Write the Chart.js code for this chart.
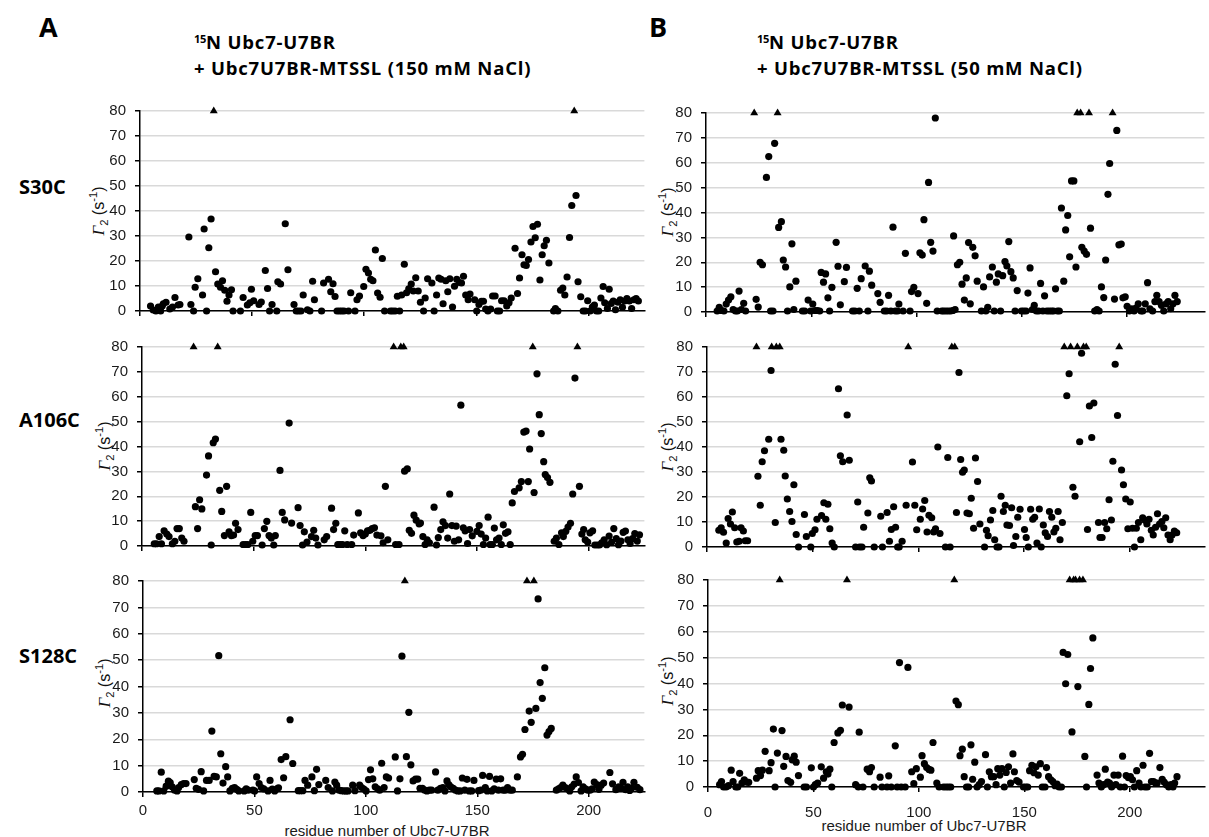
<!DOCTYPE html>
<html>
<head>
<meta charset="utf-8">
<script src="https://cdn.jsdelivr.net/npm/chart.js@4.4.1/dist/chart.umd.min.js"></script>
<style>
  body { margin: 0; width: 1209px; height: 837px; overflow: hidden; background: #fff; position: relative; }
  .head { position: absolute; font-family: 'Open Sans', sans-serif; font-weight: 700; color: #000; white-space: nowrap; line-height: 1; }
  .title { font-size: 18.5px; letter-spacing: 0.8px; }
  .head sup { font-size: 60%; vertical-align: 0.55em; line-height: 0; letter-spacing: -0.3px; }
  .ytitle { position: absolute; font-family: 'Liberation Sans', Arial, sans-serif; font-size: 16px; color: #111; white-space: nowrap; line-height: 1;
            transform: translate(-50%, -50%) rotate(-90deg); }
  .ytitle i { font-family: 'Liberation Serif', serif; font-size: 17px; color: #111; }
  .ytitle sub, .ytitle sup { font-size: 70%; line-height: 0; }
  .xtitle { position: absolute; font-family: 'Liberation Sans', Arial, sans-serif; font-size: 15px; color: #1a1a1a; white-space: nowrap; line-height: 1; transform: translate(-50%, -50%); }
</style>
</head>
<body>
<div class="head" style="left:39px;top:13px;font-size:27px">A</div>
<div class="head" style="left:649px;top:13px;font-size:27px">B</div>
<div class="head title" style="left:194px;top:33px"><sup>15</sup>N Ubc7-U7BR</div>
<div class="head title" style="left:194px;top:59px">+ Ubc7U7BR-MTSSL (150 mM NaCl)</div>
<div class="head title" style="left:757px;top:33px"><sup>15</sup>N Ubc7-U7BR</div>
<div class="head title" style="left:757px;top:59px">+ Ubc7U7BR-MTSSL (50 mM NaCl)</div>
<div class="head" style="left:19px;top:177px;font-size:20px">S30C</div>
<div class="head" style="left:19px;top:410px;font-size:20px">A106C</div>
<div class="head" style="left:19px;top:646px;font-size:20px">S128C</div>

<div class="ytitle" style="left:98px;top:211px"><i>Γ</i><sub>2</sub> (s<sup>-1</sup>)</div>
<div class="ytitle" style="left:104px;top:446px"><i>Γ</i><sub>2</sub> (s<sup>-1</sup>)</div>
<div class="ytitle" style="left:104px;top:683px"><i>Γ</i><sub>2</sub> (s<sup>-1</sup>)</div>
<div class="ytitle" style="left:667px;top:212px"><i>Γ</i><sub>2</sub> (s<sup>-1</sup>)</div>
<div class="ytitle" style="left:667px;top:447px"><i>Γ</i><sub>2</sub> (s<sup>-1</sup>)</div>
<div class="ytitle" style="left:667px;top:681px"><i>Γ</i><sub>2</sub> (s<sup>-1</sup>)</div>
<div class="xtitle" style="left:387px;top:830px">residue number of Ubc7-U7BR</div>
<div class="xtitle" style="left:924px;top:825px">residue number of Ubc7-U7BR</div>

<script>
// Γ2 values (s-1) per residue; [residue, Γ2]
const CAP = 80; // residues drawn as triangles (Γ2 beyond the axis)

const s30c150 = [[4.7,2],[5.9,0.4],[7.1,0],[8.2,1.6],[9.2,0],[9.9,2],[10.4,2.9],[11.6,3.5],[13.3,0.8],[14.5,1.6],[15.6,5.4],[17,2.4],[17.8,2.6],[21.8,29.6],[22.7,2.6],[23.9,0],[24.6,9.5],[25.8,12.9],[27.9,6.4],[28.6,32.8],[29.7,0],[30.7,25.3],[31.7,36.8],[33.7,15.7],[34.7,10.8],[35.9,9.5],[36.8,12.1],[37.8,8.3],[38.8,3.9],[39.7,6.4],[40.8,8.5],[41.5,0],[44.8,0],[46,5.4],[47.9,2.4],[49,3.3],[49.7,8.7],[50.7,4.1],[53.1,2.6],[54.1,3.6],[55.9,16.2],[56.9,9],[57.8,0],[58.9,2.6],[61,0],[61.5,11.7],[62.7,10.8],[64.8,34.9],[66,16.5],[68.7,2.6],[69.7,0],[70.7,0],[71.8,0],[72.8,6.4],[74.7,0.5],[75.8,0],[77,11.9],[77.8,4.5],[81,0],[81.9,11.2],[84.1,12.7],[85.1,7.7],[86.1,10.9],[87,5.8],[87.9,0],[89,0],[90,0],[91,0],[93,0],[94,7.3],[95.9,0],[96.8,4.5],[97.9,6],[99.8,9.8],[100.8,16.7],[101.9,15.2],[102.9,12.7],[103.9,12.1],[105,24.4],[106,7.2],[107.1,5.5],[108.1,21],[109.1,0],[111.7,0],[112.7,0],[113.8,0],[114.8,5.9],[115.8,0],[116.7,6.4],[117.9,18.7],[118.9,7.3],[119.9,8.9],[121,10.8],[121.9,8],[123,13.3],[124.1,8],[125.1,3.5],[126.5,0],[127.2,5.2],[128.3,12.9],[130.2,11.2],[131.2,0],[132.3,6.4],[133.3,13.2],[134.3,12.7],[135.2,2.9],[136.4,12.1],[137.3,7.7],[138.2,12.9],[139.4,1.6],[140.3,9.9],[141.3,12.7],[142.4,11.4],[143.4,11.2],[144.3,13.9],[145.3,6.4],[146.4,4.5],[147.2,6.8],[149.3,4.5],[150.2,0],[151.2,2.6],[152.3,3.9],[153.2,3.9],[154.2,0.8],[155.2,0],[156.4,0.8],[157.3,6],[158.4,6],[159.4,0],[160.4,0],[161.3,4.1],[162.4,4.1],[163.6,2],[164.6,3.3],[165.6,5.2],[167.3,25.1],[168.4,7],[169.3,13.2],[170.4,22.5],[171.3,18.5],[172.3,18.2],[173.3,20.6],[174.4,27.6],[175.3,33.8],[176.3,29.3],[177.3,34.7],[178.4,12.4],[179.4,22.5],[180.3,26.1],[181.3,28.3],[182.4,19.2],[184.5,0],[185.3,1],[186.4,0],[187.6,8.3],[188.6,9.2],[189.5,6.4],[190.5,13.6],[191.6,29.4],[192.6,42.2],[194.5,46.2],[195.4,11.7],[196.6,5.7],[197.7,0],[198.7,0],[199.7,4.1],[200.8,0],[201.8,1.6],[202.7,2.4],[203.6,0],[204.6,0],[205.6,5.2],[206.6,9.8],[207.3,3.3],[208.5,1],[209.3,8.7],[210.2,3],[211.1,4],[212.1,0.5],[213.2,3.5],[214.2,4.5],[215.2,1.5],[216.2,4],[217.2,5],[218.3,4],[219.3,1],[220.3,4.5],[221.3,5],[222.3,4]];
const s30c150Cap = [32.9, 193.7];

const a106c150 = [[5.5,0.9],[6.5,0.9],[7.7,3.8],[8.7,0.9],[9.9,6.1],[11.1,4.8],[12.1,3.8],[13.6,0.9],[14.7,1.9],[15.7,7],[16.7,7],[17.8,3.2],[18.8,1.9],[23.9,15.8],[24.9,7],[25.8,18.6],[26.8,14.9],[28.9,28.5],[29.8,36.2],[31,0.4],[31.9,41.5],[32.9,43],[34.8,22.4],[35.7,13.9],[36.9,4.2],[37.9,24],[39,5.7],[40,4.2],[41,4.4],[41.9,9.1],[43,6.6],[45.3,0.6],[46.4,0.6],[47.4,0.6],[48.7,13.5],[49.6,1.9],[50.7,4.2],[51.7,4.2],[53.8,0.4],[54.8,7],[55.9,9.9],[56.9,4.2],[57.9,3.2],[59,0.4],[59.7,4.2],[61.8,30.4],[62.8,13.5],[63.9,10.5],[65.9,49.4],[67,9.2],[69.9,15.4],[70.8,8.2],[71.9,0.4],[72.7,5.7],[73.9,1.6],[75.9,3.8],[76.9,6.3],[77.8,3.2],[78.8,0.4],[81.6,2.5],[82.7,3.8],[84.9,15.2],[85.8,6.6],[86.8,9.1],[87.7,0.6],[88.7,0.6],[89.8,0.6],[90.8,6.1],[91.9,0.6],[93.9,0.6],[94.8,4.4],[96.9,13.3],[97.9,5.3],[99,4.2],[100,4.8],[101,6.1],[102.1,6.3],[103.1,7],[104.1,7.3],[105.2,4.4],[107,4.1],[108,1.3],[109,24],[110.1,2.5],[113.6,0.6],[115.1,0.6],[117.6,30.1],[118.8,31],[119.7,6.3],[120.7,5.1],[121.8,12.4],[122.8,10.4],[124.1,8.9],[124.7,9.2],[125.8,3.8],[126.8,0.6],[127.7,2.5],[128.7,1.3],[130.8,15.6],[131.9,0.4],[132.7,3.4],[133.8,6.6],[134.8,9.7],[135.9,8.2],[136.9,3.2],[137.8,20.9],[138.8,8.2],[139.9,1.9],[140.7,8],[141.8,2.5],[142.8,56.6],[143.9,7.3],[144.7,6.1],[145.8,1],[146.7,6.6],[147.9,4.1],[150,5.9],[151,8.2],[151.9,4.8],[152.9,0.6],[153.9,3.2],[155,11.6],[155.9,0.6],[156.9,0.6],[157.8,7.2],[158.8,2.5],[159.9,3.2],[160.9,0.6],[161.8,8.5],[162.8,5.1],[163.9,5.7],[164.9,0.6],[165.8,17.3],[166.8,21.9],[168.9,23.4],[169.9,25.9],[171,45.8],[172,46.2],[173,25.9],[173.6,39],[175.6,21.5],[176.9,69.2],[177.9,52.8],[178.8,45.2],[179.9,33.9],[180.6,28.7],[181.6,27.5],[182.7,25.6],[184.6,1.9],[185.6,3.2],[186.7,0.6],[187.9,5.3],[188.7,3.8],[189.8,5.9],[190.8,7.6],[191.9,9.1],[192.9,20.9],[193.9,67.5],[195.9,24],[197,4.8],[197.8,6.6],[198.5,2.5],[199.6,1.6],[200.6,5.3],[201.8,6.1],[202.8,0.4],[203.9,0.4],[204.9,0.4],[205.9,1.3],[207,2.5],[208.1,0.5],[209.2,4],[210.3,1.5],[211.3,7],[212.4,3],[213.4,0.5],[214.5,2],[215.5,5.5],[216.5,6],[217.6,2.5],[218.6,1],[219.7,3],[220.7,5],[221.8,2],[222.8,4.5]];
const a106c150Cap = [23.1, 33.9, 112.7, 115.9, 117.2, 175, 195];

const s128c150 = [[6.2,0.4],[7.1,0.4],[8.2,7.5],[9.3,0.4],[10.4,2.2],[11.4,4.1],[12.2,3.6],[13.1,2],[14.2,0.7],[15.3,0.4],[16,1.7],[17.2,2.8],[18.2,3.2],[19.3,3.2],[23,4.7],[23.9,1.4],[24.9,1],[26.1,7.7],[27.2,0.4],[28.5,4.4],[29.7,4.4],[30.9,23.1],[31.9,5.9],[32.9,5.7],[34,51.7],[34.9,14.5],[35.9,3.4],[37.1,9.6],[38,5.7],[39,0.4],[40.1,1.4],[41.1,1.7],[42.1,1],[43,0.4],[45.4,0.4],[46.3,1.2],[47.2,0.7],[49.3,0.7],[50.1,0.4],[51,5.7],[52.1,3.2],[53.1,1.7],[54.2,1.2],[56.1,0.4],[57,4.4],[58,1.1],[59.1,0.4],[60.1,1.2],[60.8,1.6],[62,12.3],[63.1,5.4],[64.1,13.4],[66,27.4],[67.2,10.8],[69.7,0.5],[70.6,0.5],[71.7,0.5],[72.7,4.4],[73.9,2.6],[75.8,5.7],[76.9,0.5],[77.9,8.6],[78.9,2.8],[82,4.4],[83.1,1.7],[85,0.4],[86.1,3.8],[86.9,2.6],[88,0.7],[89,0.5],[90.1,0.4],[91.1,0.4],[92,0.4],[94.1,2.6],[95.1,0.5],[97.2,2.6],[98.1,1.7],[99.1,1.1],[100.1,0.4],[101.2,4.7],[102.1,8.4],[103.1,5],[104.2,2],[105.3,1.2],[106.2,0.7],[107.1,10.9],[108.2,1.7],[109.2,5.7],[110.2,5.3],[113.2,13.3],[114.2,0.4],[115.3,5],[116.2,51.5],[118.2,13.4],[119.3,30.2],[120.2,10.3],[121.2,4.2],[122.3,4.9],[123.3,4.9],[124.3,1.4],[125.4,1.4],[126.4,0.7],[127.4,0.4],[128.5,0.7],[129.5,0.7],[131.3,7.6],[132.3,0.7],[133.5,1.4],[134.6,1.7],[135.5,0.4],[136.4,4.2],[137.2,2.8],[138.1,2],[139.2,1.4],[140.2,0.7],[141.2,0.4],[142.3,0.4],[143.3,5.3],[144.4,0.7],[145.4,4.8],[146.4,0.4],[147.5,0.4],[148.5,4.4],[150.6,0.5],[151.6,0.7],[152.4,6.3],[153.6,1.7],[154.5,0.4],[155.5,5.9],[156.5,0.4],[157.6,1.2],[158.5,4.9],[159.5,0.7],[160.5,5],[161.6,0.7],[162.6,0.7],[163.6,1.7],[164.7,0.7],[165.7,0.7],[168,5.7],[169.4,13.3],[170.3,14.3],[171.4,23.7],[173.3,30.7],[174.2,26.4],[176.3,31.7],[177.3,73.2],[178.2,41.5],[179.2,35.5],[180.3,47.1],[181.3,21.6],[182.2,22.9],[183.2,24.1],[185.5,0.7],[186.5,1.2],[187.4,1.7],[188.4,2.6],[189.5,1.7],[190.5,1.2],[191.5,0.4],[192.4,2],[193.5,3],[194.4,5.7],[195.4,3.6],[196.6,0.4],[197.5,2],[198.5,1.2],[199.6,0.7],[200.6,0.7],[201.6,1.2],[202.5,3.8],[203.6,2.8],[204.6,1],[205.6,2.6],[206.7,3.4],[209.5,7.4],[210.7,3.1],[212.2,0.9],[213.5,2],[214.5,1.5],[215.4,3.7],[216.6,0.9],[217.5,2],[218.4,0.6],[219.3,1.5],[220.3,3.7],[221.8,1.8],[223,0.9]];
const s128c150Cap = [117.5, 172.3, 175.4];

const s30c50 = [[5.3,0.4],[6.3,1.9],[7.4,0.6],[8.5,0.4],[9.6,3.2],[10.7,4.8],[11.8,6.1],[12.9,1],[14,0.4],[14.9,0.4],[15.7,8.4],[16.8,1],[17.9,3.5],[18.8,0.4],[23.8,5.1],[24.8,2],[25.7,20],[26.8,19],[28.7,54.1],[29.8,62.5],[30.7,0.4],[31.8,0.4],[32.6,67.8],[34.5,34],[35.8,36.3],[36.7,20.9],[37.8,18.1],[38.7,0.4],[39.8,10.1],[40.8,27.4],[41.7,1],[42.7,12.4],[45.8,0.4],[46.9,0.4],[48.5,4.8],[49.7,0.4],[50.7,3.2],[51.8,0.6],[52.9,0.6],[54,0.4],[54.7,15.9],[55.8,12],[56.8,15.3],[57.9,5.7],[58.7,0.4],[59.8,9.9],[61.8,28],[62.7,18.4],[63.8,2.9],[65.7,12.2],[66.7,17.9],[69.6,0.4],[70.7,0.4],[71.8,9.5],[72.8,0.4],[73.7,13.4],[75.6,18.5],[76.9,0.4],[77.6,16.4],[78.7,10.8],[81.6,7.4],[82.7,3.9],[84.7,0.4],[85.8,0.4],[86.7,6.7],[87.8,0.4],[88.8,34.1],[89.9,0.4],[91,0.4],[91.6,3.2],[93.6,0.4],[94.7,23.6],[96.9,0.4],[97.6,8.2],[98.7,9.9],[100.7,7.4],[101.6,23.8],[102.7,22.9],[103.5,37.1],[104.8,3.5],[105.7,52.1],[106.7,28],[107.8,24.5],[108.9,78],[109.8,0.4],[112,0.4],[112.9,0.4],[114,0.4],[115.1,0.4],[116.2,0.4],[117.2,0.6],[117.6,30.6],[118.3,1],[119.4,19],[120.5,20],[121.6,11.2],[122.7,4.8],[123.6,13.7],[124.7,27.9],[125.5,3.3],[126.7,26],[127.8,22.6],[128.8,12.4],[130.8,0.4],[131.8,10.1],[132.9,0.4],[133.8,1.9],[134.7,14.1],[136,18.1],[136.9,0.4],[137.9,12],[138.8,15.3],[139.9,0.4],[140.9,14.6],[142,20.3],[142.9,18.5],[143.8,28.3],[144.8,16.2],[145.9,13.7],[146.8,0.4],[147.8,8.6],[149.8,0.4],[150.9,0.4],[152,0.4],[152.9,7.6],[153.9,17.7],[155,1],[155.9,2.7],[156.9,0.4],[158,0.4],[158.9,11.5],[160,0.4],[160.8,6.5],[161.9,0.4],[163,0.4],[164.1,0.4],[165,0.4],[166,9.3],[166.9,0.4],[167.8,0.4],[168.8,41.8],[169.9,12.4],[170.8,33],[171.8,38.8],[172.7,22.2],[173.6,52.7],[174.7,52.7],[175.7,18.1],[178.5,26],[179.6,24.5],[180.7,23.2],[182.6,33.7],[184.6,0.4],[185.7,1],[186.7,0.4],[187.8,10.1],[188.9,5.8],[189.8,20.9],[190.9,47.3],[191.7,59.7],[194,5.2],[195.1,73],[196.1,27],[197.2,27.3],[198,5.7],[199.1,6.1],[200,2.3],[201.1,0.4],[202.2,1.3],[203.3,0.4],[204.2,1.6],[205.3,3.3],[206.6,0.4],[207.4,0.4],[208.6,3.3],[209.7,11.8],[210.8,1.3],[212.1,0.4],[213.2,4.2],[214.1,6.7],[215.2,4.2],[216.3,2.7],[217.4,0.4],[218.5,3.3],[219.5,4.2],[220.7,1.3],[221.8,3.3],[222.7,6.7],[223.8,4.2]];
const s30c50Cap = [22.9, 34, 176.3, 177.9, 181.9, 193.1];

const a106c50 = [[5.6,6.7],[6.7,7.7],[7.8,5.9],[9.1,1.6],[10,11.4],[11.1,9.2],[12,14],[13.1,7.7],[14.1,2],[15.2,2.3],[16.1,7.7],[17.2,6.4],[18.1,2.5],[19.2,2.5],[24.1,28.3],[25.2,16.7],[26.1,34.1],[27.2,38.5],[29.2,43.1],[30.3,70.6],[32.3,9.8],[35,43.1],[36.3,38.7],[37,28.4],[38,19.2],[39.1,14.2],[40.2,10.2],[41.1,24.9],[42.2,5],[43.3,0],[46.1,13],[47,4.2],[49.1,0],[49.8,5.4],[51.1,6.9],[52,11.1],[54.2,12.6],[55.3,17.7],[56.2,11.1],[57.2,17.1],[58.1,7.3],[59.2,1.6],[60.2,0],[62.2,63.3],[63.1,36.5],[64.2,34.1],[66.3,52.8],[67.3,34.7],[70.3,0],[71.3,18],[72.2,0],[73.3,0],[74.1,7.9],[76.1,13.6],[77,27.7],[77.8,26.4],[79.1,0],[82.2,12.3],[83,0],[85.2,13.8],[86.3,2.3],[87.2,7],[88.3,16.1],[89.2,7.9],[90.2,0],[90.9,0],[92.3,2.3],[94.2,16.7],[97.2,34],[98.3,16.7],[99.2,6.9],[100.9,11.1],[102,15.2],[103,18.6],[104.1,6],[105,12.7],[106.3,11.7],[107.2,6],[108.1,7.3],[109.2,40],[110.2,5.4],[112.8,0],[113.9,35.8],[115,0],[118,13.8],[119.2,69.8],[120,35],[120.9,29.9],[121.7,30.8],[123,13.6],[124.1,13.3],[125,19.5],[126.1,7.5],[127,35.6],[128,26.2],[129.1,9.2],[131.3,0],[132.2,6.7],[133,4.5],[134.1,10.8],[135.2,14.6],[136.1,2.9],[137.2,0],[138.1,0],[139.1,20.3],[140.2,14.2],[141.1,16.7],[141.9,8.8],[143.1,8.6],[144.1,15.7],[145,0.6],[146.1,4.2],[147,11.9],[148.1,15.1],[150.2,7],[151,3.8],[152,0],[153.1,15.1],[154.1,11.1],[155,11.9],[156.1,1.6],[157.2,15.2],[158.1,0],[159.1,8.8],[160,5.7],[161.1,4.2],[162,14.2],[163.1,11.9],[164.1,6],[165,7.5],[166.1,14.2],[167,2.9],[168.1,9.8],[170.2,60.5],[171.3,69.3],[173.1,23.9],[174.1,20.3],[176.3,42.1],[177.2,77.5],[180,7],[180.9,56.4],[182,43.8],[183,57.6],[185.2,9.8],[185.9,3.8],[186.9,3.8],[188.1,9.8],[189.1,7.3],[190.2,18.9],[191.3,10.8],[192,34.3],[193.1,73.1],[194.2,52.6],[196.1,30.8],[197,24.9],[198.1,19.2],[199.1,7.3],[200.2,18],[201.3,7.5],[202.2,0],[203.1,7.5],[204.1,9.8],[205.2,2.9],[206.1,11.7],[207.2,10.7],[208.1,9.2],[209.1,11.1],[210.2,6.7],[211.1,4.8],[212.2,7.9],[213.1,13.3],[214.1,9.2],[215.2,10.2],[216.1,7.7],[217,11.7],[218.1,4.8],[219.1,2.9],[220,4.8],[221.1,6.4],[222.2,5.7]];
const a106c50Cap = [23.4, 30.6, 32.8, 34.4, 95.2, 115.8, 117.2, 169, 172, 175.2, 178.1, 179.4, 195];

const s128c50 = [[5.5,0.9],[6.4,2.1],[7.4,0],[8.6,0],[9.7,0.5],[11,6.5],[11.9,2.1],[13.2,0],[14.1,0],[15,5.3],[16.1,1.5],[17.2,2.8],[18.3,1.9],[19.3,1.8],[23,3.4],[23.8,6.3],[24.9,4.4],[25.8,6.5],[27.1,13.8],[29,6.3],[29.9,9.4],[31,22.4],[31.8,0],[32.9,13.1],[35.1,21.8],[35.9,8],[37,11.8],[37.9,2.5],[39.2,1.8],[39.9,10.5],[40.9,11.9],[41.8,9.6],[42.9,4.4],[45.6,0],[46.7,0],[49,7.4],[50,0],[50.9,0.9],[52,1.5],[53.7,7.8],[54.8,3.4],[56.1,5.9],[56.9,5],[57.8,6.9],[58.7,0],[59.8,17.2],[61.6,20.9],[62.8,21.9],[63.7,31.7],[66.9,30.9],[70,0.9],[71.3,0],[71.7,21.2],[73.5,0],[75.5,6.9],[76.6,5.9],[77.5,7.5],[78.8,0],[81.6,3.8],[82.5,0],[84.9,0],[85.7,4.3],[86.9,0],[88.8,15.9],[89.7,0],[90.8,48.1],[91.6,0],[93.5,0],[94.8,46.2],[96.6,5.9],[97.6,1.3],[98.8,7.1],[100.7,3.8],[101.5,12.1],[102.6,9],[103.7,7.5],[104.8,6.8],[105.7,6.5],[106.7,17.2],[108.5,1.5],[109.6,0],[111.7,0],[112.9,0],[114,0],[115.1,0],[117.6,33.2],[118.7,31.8],[119.5,12.1],[120.6,14.6],[121.5,4],[122.6,0],[123.6,0],[124.7,16.3],[125.5,3],[126.5,9.6],[127.6,0],[128.6,0.9],[129.7,2.1],[131.6,12.5],[132.5,0],[133.4,5.9],[134.4,4],[135.5,4],[136.6,0.9],[137.4,7.1],[138.4,4.6],[139.4,7.1],[140.5,0],[141.4,5.6],[142.5,7.8],[143.5,1.5],[144.6,12.8],[145.3,5.9],[146.4,2.5],[147.5,1.9],[149.6,0],[150.7,0],[151.6,0],[152.5,6.3],[153.6,8.4],[154.6,5.5],[155.5,7.8],[156.6,4.6],[157.6,9],[158.5,0],[159.8,0],[160.5,7.5],[161.5,4],[162.6,2.8],[163.5,2.1],[164.6,0.5],[165.5,1.1],[166.5,0],[167.6,0],[168.4,52],[169.6,39.9],[170.6,51.2],[172.6,21.3],[175.4,38.8],[178.7,11.8],[179.5,0],[180.6,31.9],[181.4,45.8],[182.5,57.6],[184.5,4.6],[185.4,1.5],[186.5,0],[187.5,0.9],[188.4,6.9],[189.5,1.9],[190.4,1.5],[191.4,0],[192.5,4.6],[193.4,0.9],[194.5,4.6],[195.5,0],[196.6,11.9],[197.5,0],[198.3,4.4],[199.4,3.6],[200.3,4],[201.3,2.8],[202.2,0],[203.3,6.3],[204.4,1.5],[205.3,0],[206.3,8.4],[207.2,0],[208.3,0],[209.4,13],[210.3,2.1],[211.3,2.1],[212.2,1.5],[213,1.5],[214.3,7.5],[215.4,3],[216.3,1.9],[217.4,0.9],[218.5,0],[219.6,0.9],[220.5,0],[221.3,1.5],[222.4,4]];
const s128c50Cap = [34, 65.9, 116.8, 171.5, 173.4, 174.3, 176.2, 177.8];

const xTicks = [0, 50, 100, 150, 200];
const yTicks = [0, 10, 20, 30, 40, 50, 60, 70, 80];

Chart.defaults.font.family = "'Liberation Sans', Arial, sans-serif";
Chart.defaults.font.size = 15;
Chart.defaults.color = '#1a1a1a';

// box = chart area [left, top, right, bottom] in page pixels
function panel(points, caps, box, xMax, showX, xPad) {
  const [l, t, r, b] = box;
  const YW = 50, PT = 12, XH = showX ? 36 : 12;
  const cv = document.createElement('canvas');
  cv.width = r - l + YW;
  cv.height = b - t + PT + XH;
  cv.style.cssText = 'position:absolute;left:' + (l - YW) + 'px;top:' + (t - PT) + 'px';
  document.body.appendChild(cv);

  new Chart(cv, {
    type: 'scatter',
    data: {
      datasets: [{
        data: points.map(p => ({x: p[0], y: p[1]})),
        pointStyle: 'circle',
        pointRadius: 3.6,
        pointHoverRadius: 3.6,
        backgroundColor: '#000',
        borderWidth: 0,
        clip: false
      }, {
        data: caps.map(x => ({x: x, y: CAP})),
        pointStyle: 'triangle',
        pointRadius: 4.6,
        pointHoverRadius: 4.6,
        backgroundColor: '#000',
        borderWidth: 0,
        clip: false
      }]
    },
    options: {
      responsive: false,
      animation: false,
      layout: { padding: { top: PT, left: 0, right: 0, bottom: 0 } },
      plugins: { legend: { display: false }, tooltip: { enabled: false } },
      scales: {
        x: {
          type: 'linear', min: 0, max: xMax,
          afterFit: s => { s.height = XH; },
          afterBuildTicks: s => { s.ticks = xTicks.map(v => ({value: v})); },
          border: { color: '#000', width: 1.5 },
          grid: { drawOnChartArea: false, tickLength: 5, tickColor: '#000', lineWidth: 1.5 },
          ticks: { display: showX, padding: xPad, maxRotation: 0, autoSkip: false }
        },
        y: {
          min: 0, max: 80,
          afterFit: s => { s.width = YW; },
          afterBuildTicks: s => { s.ticks = yTicks.map(v => ({value: v})); },
          border: { color: '#000', width: 1.5 },
          grid: { color: '#d9d9d9', lineWidth: 1.5, tickLength: 5, tickColor: '#000' },
          ticks: { padding: 9, autoSkip: false }
        }
      }
    }
  });
}

panel(s30c150, s30c150Cap, [140, 105, 649, 317], 225, false, 5);
panel(a106c150, a106c150Cap, [142, 341, 649, 552], 225, false, 5);
panel(s128c150, s128c150Cap, [143, 575, 649, 792], 225, true, 5);
panel(s30c50, s30c50Cap, [706, 107, 1209, 318], 236.7, false, 12);
panel(a106c50, a106c50Cap, [707, 341, 1209, 553], 235.3, false, 12);
panel(s128c50, s128c50Cap, [708, 574, 1209, 787], 235.4, true, 12);
</script>
</body>
</html>
